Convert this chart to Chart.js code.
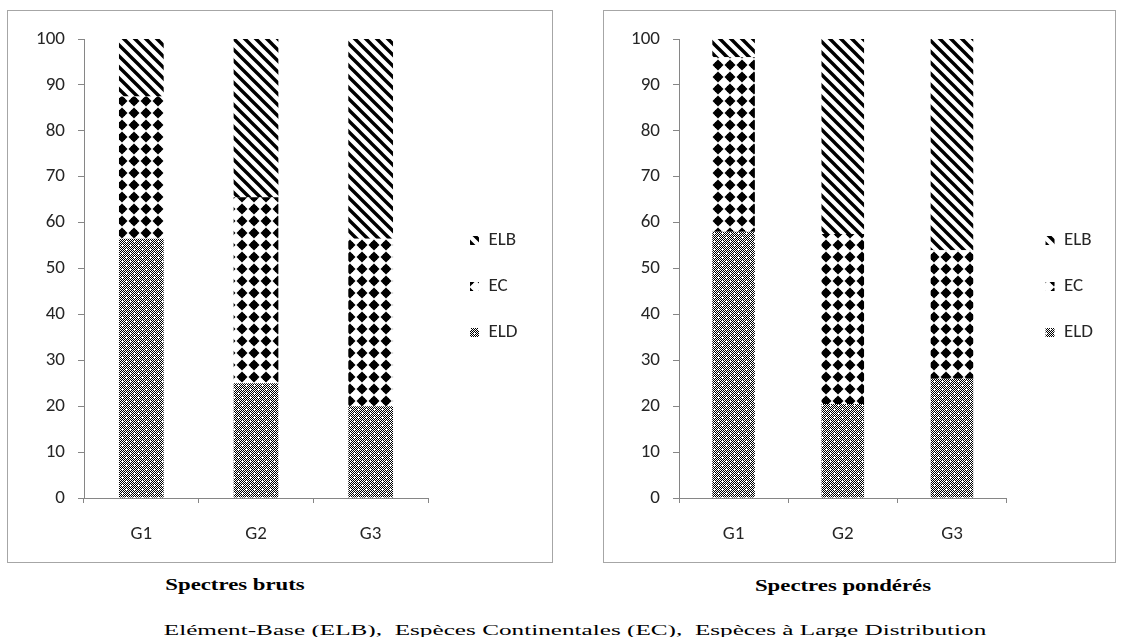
<!DOCTYPE html>
<html>
<head>
<meta charset="utf-8">
<script src="https://cdn.jsdelivr.net/npm/chart.js@4.4.1/dist/chart.umd.min.js"></script>
<style>
  body { margin: 0; background: #fff; width: 1123px; height: 637px; position: relative; overflow: hidden; }
  .box { position: absolute; border: 1px solid #a6a6a6; box-sizing: border-box; }
  .box canvas { position: absolute; left: 0; top: 0; }
  .cap { position: absolute; font-family: "Liberation Serif", serif; color: #000; white-space: nowrap; }
  .cap.b { font-weight: bold; font-size: 17px; transform: translateX(-50%) scaleX(1.34); }
  .cap.n { font-size: 15px; transform: translateX(-50%) scaleX(1.68); }
</style>
</head>
<body>
<div class="box" style="left:7px; top:10px; width:546px; height:553px;"><canvas id="chartL" width="544" height="551"></canvas></div>
<div class="box" style="left:603px; top:10px; width:513px; height:553px;"><canvas id="chartR" width="511" height="551"></canvas></div>
<div class="cap b" style="left:235px; top:575px;">Spectres bruts</div>
<div class="cap b" style="left:843px; top:576px;">Spectres pondérés</div>
<div class="cap n" style="left:575px; top:622px;">Elément-Base (ELB),&nbsp; Espèces Continentales (EC),&nbsp; Espèces à Large Distribution</div>

<script>
// --- données (%) ---
const groupes = ["G1", "G2", "G3"];
const seriesNames = ["ELD", "EC", "ELB"];

const brutsELD = [56.5, 25, 20];
const brutsEC = [31, 40.5, 36.5];
const brutsELB = [12.5, 34.5, 43.5];

const pondELD = [58, 20.5, 26];
const pondEC = [38, 37, 28];
const pondELB = [4, 42.5, 46];

const yTicks = [0, 10, 20, 30, 40, 50, 60, 70, 80, 90, 100];

const FONT = "Carlito, 'Open Sans', sans-serif";
const FONT_SIZE = 19;
const LEGEND_PAD = 27;
const LEGEND_BOX = 9;

// --- motifs de remplissage (noir et blanc) ---
function makeTile(size, draw) {
    const c = document.createElement('canvas');
    c.width = c.height = size;
    const g = c.getContext('2d');
    g.fillStyle = '#fff';
    g.fillRect(0, 0, size, size);
    draw(g, size);
    return document.createElement('canvas').getContext('2d').createPattern(c, 'repeat');
}

const stripePattern = makeTile(11, (g, s) => {
    g.strokeStyle = '#000';
    g.lineWidth = 3.4;
    g.beginPath();
    for (let k = -s; k <= s; k += s) {
        g.moveTo(k - 2, -2);
        g.lineTo(k + s + 2, s + 2);
    }
    g.stroke();
});

const diamondPattern = makeTile(12, (g) => {
    g.fillStyle = '#000';
    g.beginPath();
    g.moveTo(6, 0.5);
    g.lineTo(11.5, 6);
    g.lineTo(6, 11.5);
    g.lineTo(0.5, 6);
    g.closePath();
    g.fill();
    g.fillRect(3, 3, 6, 6);
});

const dotPattern = makeTile(8, (g) => {
    g.fillStyle = '#000';
    for (let y = 0; y < 8; y++) {
        for (let x = 0; x < 8; x++) {
            if ((x + y) % 2 === 0) g.fillRect(x, y, 1, 1);
        }
    }
    g.fillStyle = '#fff';
    [[2, 2], [6, 6]].forEach(([cx, cy]) => {
        g.fillRect(cx - 1, cy, 3, 1);
        g.fillRect(cx, cy - 1, 1, 3);
    });
});

const patterns = [dotPattern, diamondPattern, stripePattern];

// largeur de la légende, calculée comme Chart.js le fait
function legendWidth() {
    const g = document.createElement('canvas').getContext('2d');
    g.font = FONT_SIZE + 'px ' + FONT;
    const textW = Math.max(...seriesNames.map(t => g.measureText(t).width));
    return LEGEND_PAD + LEGEND_BOX + FONT_SIZE / 2 + textW + 10;
}

// plotRight : bord droit de la zone de tracé ; legendX : position du carré de légende (px du canvas)
function buildChart(id, values, yWidth, plotRight, legendX) {
    const canvas = document.getElementById(id);
    const W = canvas.width;
    const legendLeft = legendX - LEGEND_PAD;
    const padRight = W - legendWidth() - legendLeft;
    const gapW = legendLeft - plotRight;

    new Chart(canvas.getContext('2d'), {
        type: 'bar',
        data: {
            labels: groupes,
            datasets: values.map((v, i) => ({
                label: seriesNames[i],
                data: v,
                backgroundColor: patterns[i],
                borderWidth: 0,
                categoryPercentage: 1,
                barPercentage: 0.39
            }))
        },
        options: {
            responsive: false,
            animation: false,
            layout: { padding: { top: 0, right: padRight, bottom: 0, left: 0 } },
            plugins: {
                legend: {
                    position: 'right',
                    reverse: true,
                    labels: {
                        boxWidth: LEGEND_BOX,
                        boxHeight: LEGEND_BOX,
                        padding: LEGEND_PAD,
                        color: '#262626',
                        font: { family: FONT, size: FONT_SIZE }
                    }
                },
                tooltip: { enabled: false }
            },
            scales: {
                x: {
                    stacked: true,
                    grid: { drawOnChartArea: false, tickLength: 5, color: '#868686' },
                    border: { color: '#868686' },
                    ticks: { color: '#262626', padding: 20, font: { family: FONT, size: FONT_SIZE } },
                    afterFit: (s) => { s.height = 64; }
                },
                y: {
                    stacked: true,
                    min: 0,
                    max: 100,
                    afterBuildTicks: (s) => { s.ticks = yTicks.map(v => ({ value: v })); },
                    grid: { drawOnChartArea: false, tickLength: 6, color: '#868686' },
                    border: { color: '#868686' },
                    ticks: { color: '#262626', padding: 13, font: { family: FONT, size: FONT_SIZE } },
                    afterFit: (s) => { s.width = yWidth; }
                },
                // marges invisibles : au-dessus du tracé et entre le tracé et la légende
                gapTop: {
                    position: 'top',
                    display: true,
                    grid: { display: false },
                    border: { display: false },
                    ticks: { display: false },
                    afterFit: (s) => { s.height = 28; }
                },
                gap: {
                    position: 'right',
                    display: true,
                    grid: { display: false },
                    border: { display: false },
                    ticks: { display: false },
                    afterFit: (s) => { s.width = gapW; }
                }
            }
        }
    });
}

buildChart('chartL', [brutsELD, brutsEC, brutsELB], 76, 420, 462);
buildChart('chartR', [pondELD, pondEC, pondELB], 75, 401, 440);
</script>
</body>
</html>
